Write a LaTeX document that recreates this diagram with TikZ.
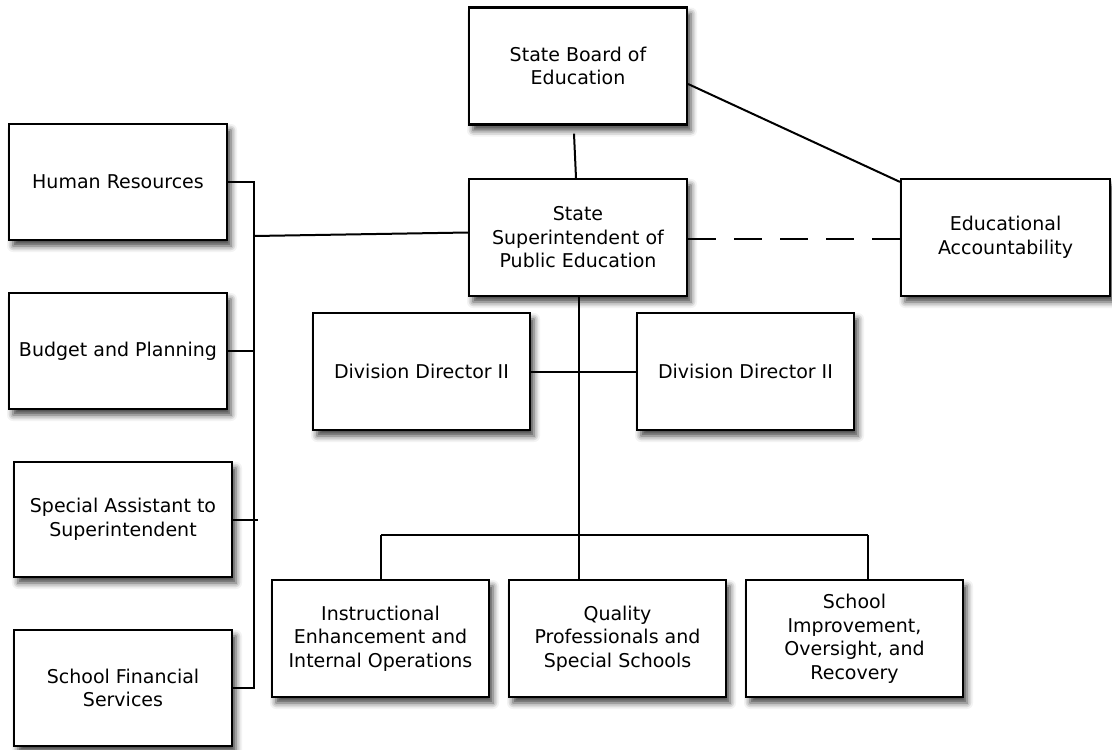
\documentclass[tikz,border=0pt]{standalone}
\usepackage{fontspec}
\setmainfont{DejaVu Sans}
\usetikzlibrary{shadows.blur}
\begin{document}
\begin{tikzpicture}[x=1pt,y=-1pt,
  box/.style={draw=black, line width=2.2pt, fill=white, align=center,
    minimum width=218pt, minimum height=117pt, inner sep=2pt,
    font=\fontsize{19}{23.5}\selectfont,
    blur shadow={shadow xshift=4pt, shadow yshift=-6pt, shadow blur radius=6pt, shadow opacity=75}},
  conn/.style={draw=black, line width=2pt},
  dashconn/.style={conn, dash pattern=on 28pt off 18pt}]
\useasboundingbox (0,0) rectangle (1112,750);

% nodes
\node[box] (board) at (578,66) {State Board of\\Education};
\node[box] (supt) at (578,237.5) {State\\Superintendent of\\Public Education};
\node[box, minimum width=209pt] (acct) at (1005.5,237.5) {Educational\\Accountability};
\node[box, minimum height=116pt] (hr) at (118,182) {Human Resources};
\node[box, minimum height=116pt] (budget) at (118,351) {Budget and Planning};
\node[box, minimum height=115pt] (spec) at (123,519.5) {Special Assistant to\\Superintendent};
\node[box, minimum height=116pt] (fin) at (123,688) {School Financial\\Services};
\node[box, minimum width=217pt] (dd1) at (421.5,371.5) {Division Director II};
\node[box, minimum width=217pt] (dd2) at (745.5,371.5) {Division Director II};
\node[box, minimum width=217pt] (instr) at (380.5,638.5) {Instructional\\Enhancement and\\Internal Operations};
\node[box, minimum width=217pt] (qual) at (617.5,638.5) {Quality\\Professionals and\\Special Schools};
\node[box, minimum width=217pt] (impr) at (854.5,638.5) {School\\Improvement,\\Oversight, and\\Recovery};

% coordinates
\coordinate (bustop) at (254,182);
\coordinate (busmid) at (254,236);
\coordinate (busbot) at (254,688);
\coordinate (jc) at (579,535);
\coordinate (jl) at (381,535);
\coordinate (jr) at (868,535);

% connectors
\draw[conn] ([xshift=-4pt,yshift=-8pt]board.south) -- ([xshift=-2pt]supt.north);
\draw[conn] ([yshift=-18pt]board.east) -- ([yshift=-4pt]acct.north west);
\draw[dashconn] ([yshift=-1.5pt]supt.east) -- ([yshift=-1.5pt]supt.east -| acct.west);

\draw[conn] (hr.east) -- (bustop) -- (busbot) -- (fin.east);
\draw[conn] (budget.east) -- (budget.east -| bustop);
\draw[conn] (spec.east) -- ++(25,0);
\draw[conn] (busmid) -- ([yshift=5pt]supt.west);

\draw[conn] (supt.south -| jc) -- (jc);
\draw[conn] (dd1.east) -- (dd2.west);
\draw[conn] (jl) -- (jr);
\draw[conn] (jl) -- (jl |- instr.north);
\draw[conn] (jc) -- (jc |- qual.north);
\draw[conn] (jr) -- (jr |- impr.north);
\end{tikzpicture}
\end{document}
